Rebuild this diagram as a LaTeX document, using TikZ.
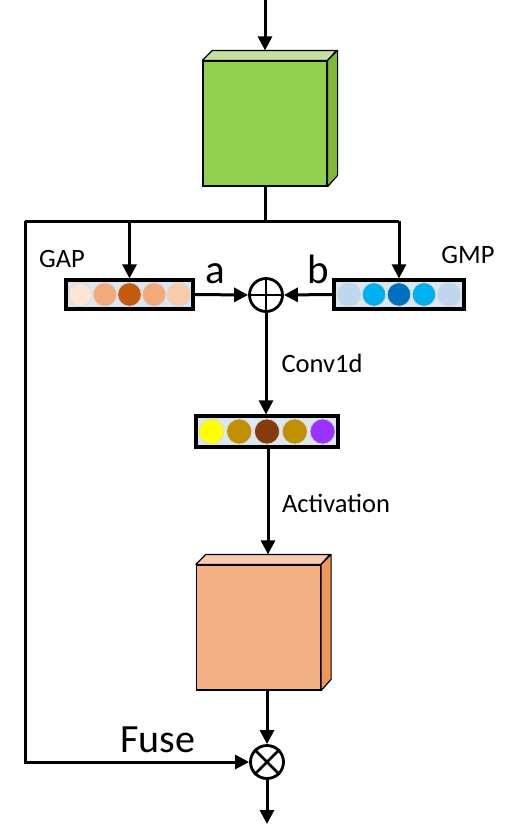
\documentclass[tikz,border=0pt]{standalone}
\usepackage{fontspec}
\setmainfont{Carlito}
\usetikzlibrary{arrows.meta,calc}
\definecolor{ecaGreen}{HTML}{92D050}
\definecolor{ecaGreenTop}{HTML}{C5E0A0}
\definecolor{ecaGreenSide}{HTML}{7CBB38}
\definecolor{ecaOrange}{HTML}{F4B183}
\definecolor{ecaOrangeTop}{HTML}{F8CBAD}
\definecolor{ecaOrangeSide}{HTML}{F0965A}
\definecolor{ecaBar}{HTML}{DDE7F2}
\definecolor{gapA}{HTML}{FBE5D6}
\definecolor{gapB}{HTML}{F2AA7A}
\definecolor{gapC}{HTML}{C55A11}
\definecolor{gapD}{HTML}{F2AA7A}
\definecolor{gapE}{HTML}{F8CBAD}
\definecolor{gmpA}{HTML}{BDD7EE}
\definecolor{gmpB}{HTML}{00B0F0}
\definecolor{gmpC}{HTML}{0070C0}
\definecolor{convA}{HTML}{FFFF00}
\definecolor{convB}{HTML}{BF9000}
\definecolor{convC}{HTML}{843C0C}
\definecolor{convD}{HTML}{9933FF}
\tikzset{
  cubefront/.style={draw, line width=0.6pt, minimum width=62pt, minimum height=62.5pt, inner sep=0pt},
  cubeface/.style={draw, line width=0.6pt, line join=round},
  bar/.style={draw, line width=1.6pt, fill=ecaBar, inner sep=0pt, minimum height=14.5pt},
  dot/.style={circle, draw=black!15, line width=0.4pt, inner sep=0pt, minimum size=11.8pt},
  opnode/.style={circle, draw, line width=1.4pt, minimum size=16.5pt, inner sep=0pt},
  wire/.style={line width=1.5pt},
  arr/.style={wire, -{Triangle[length=7pt, width=7pt]}},
  lbl/.style={font=\fontsize{13.25}{15}\selectfont, inner sep=0pt, anchor=base},
  biglbl/.style={font=\fontsize{20.5}{24}\selectfont, inner sep=0pt, anchor=base}
}
\begin{document}
\begin{tikzpicture}[x=0.5pt, y=-0.5pt]
  \path[use as bounding box] (0,0) rectangle (508,826);

  % input block and output block (cubes)
  \node[cubefront, fill=ecaGreen] (g) at (265,123.5) {};
  \node[cubefront, fill=ecaOrange] (o) at (258.5,627.5) {};
  \foreach \c/\t/\s in {g/ecaGreenTop/ecaGreenSide, o/ecaOrangeTop/ecaOrangeSide}{
    \draw[cubeface, fill=\t] (\c.north west) -- ++(10,-10) -- ++(124,0) -- (\c.north east) -- cycle;
    \draw[cubeface, fill=\s] (\c.north east) -- ++(10,-10) -- ++(0,125) -- (\c.south east) -- cycle;
  }

  % pooled descriptors
  \node[bar, minimum width=63.5pt] (gap) at (129.5,294.5) {};
  \node[bar, minimum width=65pt] (gmp) at (399,294.5) {};
  \node[bar, minimum width=71pt, minimum height=15.5pt] (conv) at (267,431.5) {};
  \foreach \i/\col in {0/gapA,1/gapB,2/gapC,3/gapD,4/gapE}
    \node[dot, fill=\col] (gap-\i) at (gap.center) [xshift=(\i-2)*12.3pt] {};
  \foreach \i/\col in {0/gmpA,1/gmpB,2/gmpC,3/gmpB,4/gmpA}
    \node[dot, fill=\col] (gmp-\i) at (gmp.center) [xshift=(\i-2)*12.5pt] {};
  \foreach \i/\col in {0/convA,1/convB,2/convC,3/convB,4/convD}
    \node[dot, minimum size=12.6pt, fill=\col] (conv-\i) at (conv.center) [xshift=(\i-2)*13.9pt] {};

  % operators
  \node[opnode] (sum) at (266,295) {};
  \draw[line width=1.4pt] (sum.north) -- (sum.south) (sum.west) -- (sum.east);
  \node[opnode] (mul) at (267,762) {};
  \draw[line width=1.4pt] (mul.north west) -- (mul.south east) (mul.north east) -- (mul.south west);

  % labels
  \node[lbl] (gaptxt) at (62,267) {GAP};
  \node[lbl] (gmptxt) at (468,263) {GMP};
  \node[biglbl] (atxt) at (215,283) {a};
  \node[biglbl] (btxt) at (318,283) {b};
  \node[lbl] (convtxt) at (322,372) {Conv1d};
  \node[lbl] (acttxt) at (336,512) {Activation};
  \node[biglbl, font=\fontsize{20}{24}\selectfont] (fusetxt) at (158,752) {Fuse};

  % connectors
  \coordinate (in) at (265,0);
  \coordinate (split) at (265,221);
  \coordinate (lt) at (25,221);
  \coordinate (rt) at (399,221);
  \coordinate (out) at (267,824);
  \draw[arr] (in) -- ($(g.north)+(0,-10)$);
  \draw[wire] (g.south) -- (split);
  \draw[wire, line join=miter] (lt) -- (rt);
  \draw[arr] (gap.north |- split) -- (gap.north);
  \draw[arr] (rt) -- (gmp.north);
  \draw[arr] (gap.east) -- (sum.west);
  \draw[arr] (gmp.west) -- (sum.east);
  \draw[arr] (sum.south) -- (sum.south |- conv.north);
  \draw[arr] (conv.south -| 268,0) -- ($(o.north -| 268,0)+(0,-10)$);
  \draw[arr] (o.south -| 267,0) -- (mul.north);
  \draw[arr] (lt) |- (mul.west);
  \draw[arr] (mul.south) -- (out);
\end{tikzpicture}
\end{document}
